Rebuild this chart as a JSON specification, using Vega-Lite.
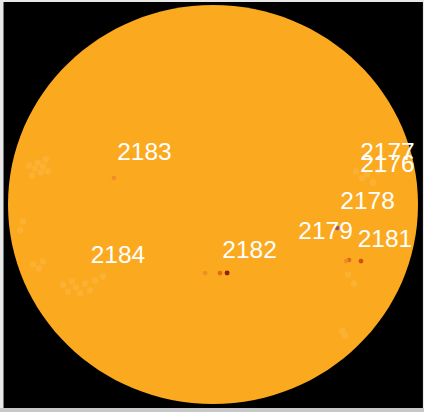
{"$schema":"https://vega.github.io/schema/vega-lite/v6.json","width":424,"height":412,"padding":0,"autosize":{"type":"none"},"background":"#e8e8e8","view":{"stroke":null},"config":{"axis":{"disable":true},"legend":{"disable":true}},"resolve":{"scale":{"color":"independent"}},"datasets":{"frame":[{"part":"shadow","x0":-998,"x1":989,"y0":-953,"y1":-972},{"part":"sky","x0":-981,"x1":983,"y0":948,"y1":-953}],"disc":[{"x":0,"y":0}],"faculae":[{"x":-862,"y":183},{"x":-834,"y":169},{"x":-820,"y":197},{"x":-806,"y":150},{"x":-796,"y":178},{"x":-782,"y":211},{"x":-773,"y":155},{"x":-848,"y":136},{"x":-843,"y":-281},{"x":-815,"y":-300},{"x":-796,"y":-267},{"x":-702,"y":-375},{"x":-679,"y":-408},{"x":-660,"y":-361},{"x":-641,"y":-389},{"x":-622,"y":-417},{"x":-599,"y":-370},{"x":-576,"y":-403},{"x":-552,"y":-356},{"x":-515,"y":-337},{"x":670,"y":155},{"x":698,"y":122},{"x":721,"y":141},{"x":749,"y":103},{"x":773,"y":155},{"x":632,"y":-328},{"x":660,"y":-370},{"x":618,"y":-613},{"x":604,"y":-590},{"x":-890,"y":-80},{"x":-903,"y":-120}],"spots":[{"x":66,"y":-321,"type":"umbra"},{"x":33,"y":-321,"type":"pore"},{"x":-37,"y":-321,"type":"faint"},{"x":693,"y":-265,"type":"core"},{"x":637,"y":-260,"type":"pore"},{"x":623,"y":-265,"type":"faint"},{"x":581,"y":-110,"type":"violet"},{"x":-464,"y":124,"type":"faint"}],"regions":[{"x":-321,"y":208,"noaa":"2183"},{"x":-445,"y":-274,"noaa":"2184"},{"x":171,"y":-251,"noaa":"2182"},{"x":817,"y":208,"noaa":"2177"},{"x":817,"y":152,"noaa":"2176"},{"x":724,"y":-21,"noaa":"2178"},{"x":527,"y":-162,"noaa":"2179"},{"x":805,"y":-199,"noaa":"2181"}]},"layer":[{"data":{"name":"frame"},"mark":{"type":"rect"},"encoding":{"x":{"field":"x0","type":"quantitative","scale":{"domain":[-997.5,988.1],"nice":false,"zero":false},"axis":null},"x2":{"field":"x1"},"y":{"field":"y0","type":"quantitative","scale":{"domain":[-971.7,957.7],"nice":false,"zero":false},"axis":null},"y2":{"field":"y1"},"color":{"field":"part","type":"nominal","scale":{"domain":["shadow","sky"],"range":["#c8c8c8","#000000"]},"legend":null}}},{"data":{"name":"disc"},"mark":{"type":"point","filled":true,"opacity":1,"color":"#fba91f","size":168100,"shape":"M -1 0 A 1 0.973 0 1 1 1 0 A 1 0.973 0 1 1 -1 0 Z","strokeWidth":0},"encoding":{"x":{"field":"x","type":"quantitative"},"y":{"field":"y","type":"quantitative"}}},{"data":{"name":"faculae"},"mark":{"type":"circle","color":"#ffd58a","opacity":0.2,"size":40},"encoding":{"x":{"field":"x","type":"quantitative"},"y":{"field":"y","type":"quantitative"}}},{"data":{"name":"spots"},"mark":{"type":"circle","opacity":0.9},"encoding":{"x":{"field":"x","type":"quantitative"},"y":{"field":"y","type":"quantitative"},"size":{"field":"type","type":"nominal","scale":{"domain":["umbra","core","pore","faint","violet"],"range":[24,20,9,6,8]},"legend":null},"color":{"field":"type","type":"nominal","scale":{"domain":["umbra","core","pore","faint","violet"],"range":["#7d1500","#d2400c","#d9641a","#ee8a2a","#7a4a78"]},"legend":null}}},{"data":{"name":"regions"},"mark":{"type":"text","font":"Liberation Sans","fontSize":24.5,"color":"#ffffff","align":"center","baseline":"alphabetic"},"encoding":{"x":{"field":"x","type":"quantitative"},"y":{"field":"y","type":"quantitative"},"text":{"field":"noaa","type":"nominal"}}}]}
